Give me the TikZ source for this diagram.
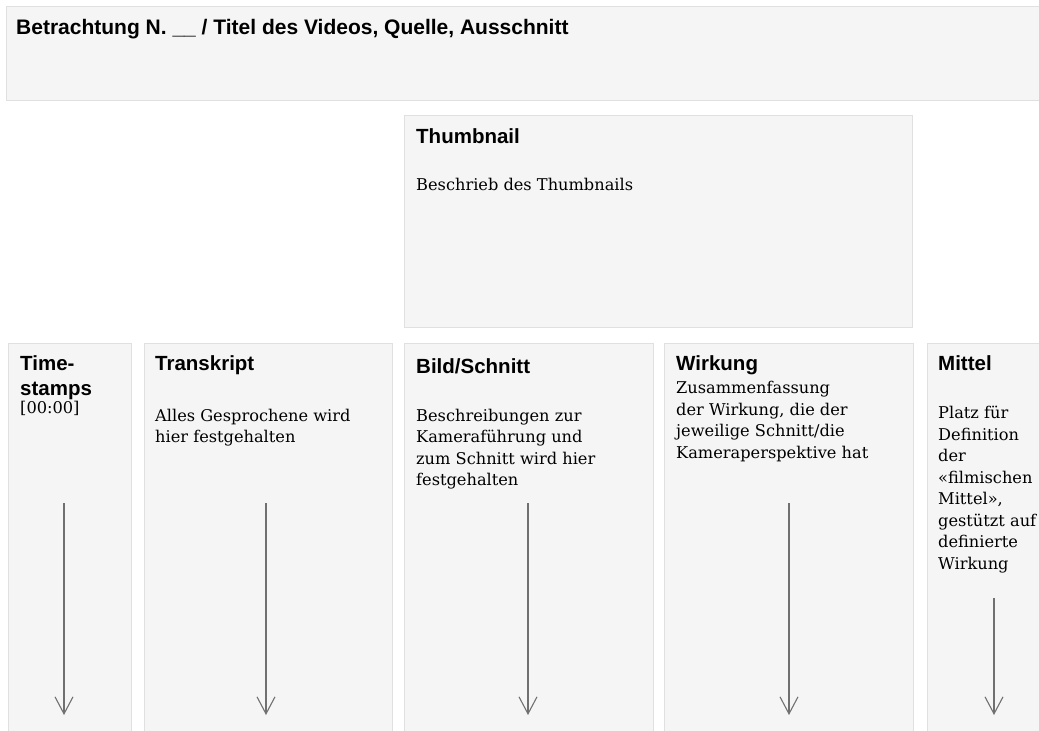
\documentclass[tikz,border=0pt]{standalone}
\usepackage{fontspec}
\setmainfont{DejaVu Serif}
\setsansfont{Liberation Sans}
\usetikzlibrary{arrows.meta}
\definecolor{panelfill}{HTML}{F5F5F5}
\definecolor{panelline}{HTML}{E0E0E0}
\definecolor{arrowgray}{HTML}{707070}

\begin{document}
\begin{tikzpicture}[
    x=1pt,y=-1pt,
    panel/.style={draw=panelline,fill=panelfill,line width=0.8pt,anchor=north west,inner sep=0pt},
    head/.style={anchor=base west,inner sep=0pt,align=left,font=\sffamily\bfseries\fontsize{20.5}{25}\selectfont},
    body/.style={anchor=base west,inner sep=0pt,align=left,font=\fontsize{16.2}{21.5}\selectfont},
    flow/.style={draw=arrowgray,line width=1.2pt,-{Straight Barb[length=17pt,width=18pt,line width=1.1pt]}}
]
\useasboundingbox (0,0) rectangle (1039,731);

% panels
\node[panel,minimum width=1045pt,minimum height=94pt] (titel) at (6,6) {};
\node[panel,minimum width=508pt,minimum height=212pt] (thumb) at (404,115) {};
\node[panel,minimum width=123pt,minimum height=400pt] (ts) at (8,343) {};
\node[panel,minimum width=248pt,minimum height=400pt] (trans) at (144,343) {};
\node[panel,minimum width=249pt,minimum height=400pt] (bild) at (404,343) {};
\node[panel,minimum width=249pt,minimum height=400pt] (wirk) at (664,343) {};
\node[panel,minimum width=130pt,minimum height=400pt] (mittel) at (927,343) {};

% texts (base = baseline of the last line)
\node[head,font=\sffamily\bfseries\fontsize{21}{25}\selectfont] (titelText) at (16,34)
    {Betrachtung N. \_\_ / Titel des Videos, Quelle, Ausschnitt};
\node[head] (thumbHead) at (416,143) {Thumbnail};
\node[body] (thumbText) at (416,190) {Beschrieb des Thumbnails};

\node[head] (tsHead) at (20,395) {Time-\\stamps};
\node[body] (tsText) at (20,413) {[00:00]};
\node[head] (transHead) at (155,370) {Transkript};
\node[body] (transText) at (155,442.5) {Alles Gesprochene wird\\hier festgehalten};
\node[head] (bildHead) at (416,373) {Bild/Schnitt};
\node[body] (bildText) at (416,485.5) {Beschreibungen zur\\Kameraführung und\\zum Schnitt wird hier\\festgehalten};
\node[head] (wirkHead) at (676,370) {Wirkung};
\node[body] (wirkText) at (676,458) {Zusammenfassung\\der Wirkung, die der\\jeweilige Schnitt/die\\Kameraperspektive hat};
\node[head] (mittelHead) at (938,370) {Mittel};
\node[body] (mittelText) at (938,569) {Platz für\\Definition\\der\\«filmischen\\Mittel»,\\gestützt auf\\definierte\\Wirkung};

% arrows
\coordinate (tsA) at (64,503);     \coordinate (tsB) at (64,715);
\coordinate (transA) at (266,503); \coordinate (transB) at (266,715);
\coordinate (bildA) at (528,503);  \coordinate (bildB) at (528,715);
\coordinate (wirkA) at (789,503);  \coordinate (wirkB) at (789,715);
\coordinate (mittelA) at (994,598); \coordinate (mittelB) at (994,715);
\foreach \c in {ts,trans,bild,wirk,mittel}
    \draw[flow] (\c A) -- (\c B);
\end{tikzpicture}
\end{document}
